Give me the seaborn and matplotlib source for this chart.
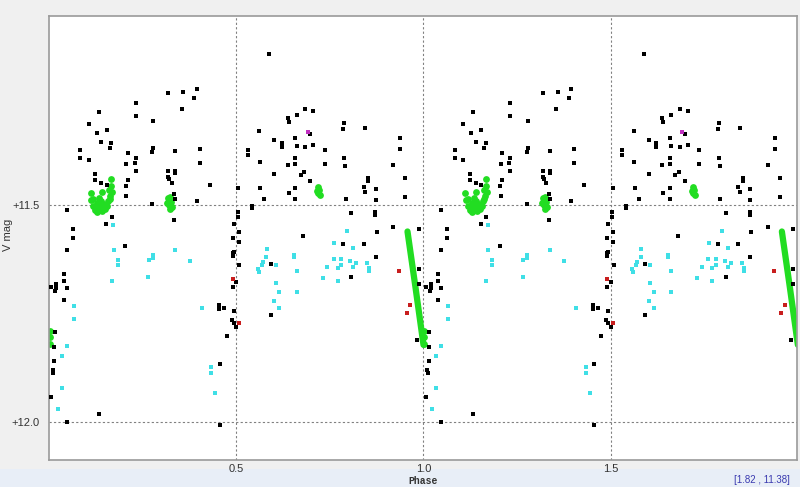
"""
Phase plot of a variable star (V magnitude vs phase, folded twice)
"""

import numpy as np
import pandas as pd
import matplotlib
matplotlib.use('Agg')
import matplotlib.pyplot as plt
import seaborn as sns

# ---- data (phase 0..1, drawn again at phase+1) ----
black_phase = [0.1324, 0.1057, 0.1282, 0.1549, 0.1397, 0.1664, 0.1618, 0.0836, 0.0836, 0.1057,
               0.1236, 0.1236, 0.1397, 0.1549, 0.2312, 0.2312, 0.2109, 0.2064, 0.2312, 0.2296,
               0.2312, 0.2109, 0.2045, 0.2064, 0.2785, 0.2785, 0.2758, 0.3186, 0.3586, 0.3952,
               0.3880, 0.3551, 0.3372, 0.4021, 0.4021, 0.3186, 0.3372, 0.3372, 0.3186, 0.3212,
               0.3284, 0.3346, 0.3372, 0.3952, 0.4288, 0.2758, 0.0481, 0.0630, 0.0630, 0.1682,
               0.1530, 0.3346, 0.5055, 0.5036, 0.5036, 0.4929, 0.4903, 0.0481, 0.2037, 0.0401,
               0.0401, 0.0061, 0.0195, 0.0168, 0.0195, 0.0470, 0.0401, 0.0160, 0.0142, 0.0142,
               0.0107, 0.0115, 0.0061, 0.0470, 0.1324, 0.4529, 0.4529, 0.4673, 0.4742, 0.4555,
               0.4555, 0.4903, 0.4903, 0.4929, 0.5063, 0.5063, 0.5081, 0.4903, 0.5001, 0.4940,
               0.4887, 0.4929, 0.5001, 0.5883, 0.6844, 0.7065, 0.6371, 0.6398, 0.6622, 0.5615,
               0.6977, 0.6016, 0.6222, 0.6222, 0.6577, 0.6622, 0.6844, 0.7065, 0.7359, 0.5303,
               0.5303, 0.5634, 0.6577, 0.6371, 0.6577, 0.7359, 0.6016, 0.6729, 0.6817, 0.6977,
               0.5642, 0.6398, 0.6577, 0.5749, 0.6577, 0.7885, 0.7866, 0.8454, 0.7885, 0.7912,
               0.7920, 0.8526, 0.8526, 0.8401, 0.8454, 0.8732, 0.8732, 0.9202, 0.9380, 0.9380,
               0.9514, 0.9514, 0.5421, 0.5421, 0.6798, 0.8072, 0.8713, 0.8713, 0.8758, 0.9202,
               0.9880, 0.5928, 0.5928, 0.7866, 0.8401, 0.8732, 0.8072, 0.9880, 0.9880, 0.9826]
black_mag = [11.287, 11.314, 11.334, 11.327, 11.354, 11.357, 11.368, 11.374, 11.391, 11.397,
             11.428, 11.442, 11.449, 11.455, 11.266, 11.295, 11.380, 11.405, 11.392, 11.403,
             11.422, 11.442, 11.457, 11.479, 11.306, 11.368, 11.378, 11.242, 11.241, 11.233,
             11.254, 11.278, 11.376, 11.372, 11.403, 11.421, 11.421, 11.426, 11.435, 11.441,
             11.449, 11.475, 11.486, 11.490, 11.453, 11.498, 11.512, 11.556, 11.576, 11.527,
             11.544, 11.535, 11.462, 11.516, 11.528, 11.544, 11.576, 11.604, 11.594, 11.658,
             11.676, 11.689, 11.681, 11.699, 11.692, 11.692, 11.719, 11.792, 11.827, 11.860,
             11.880, 11.886, 11.943, 11.999, 11.982, 11.731, 11.740, 11.736, 11.801, 11.866,
             12.007, 11.611, 11.617, 11.608, 11.586, 11.563, 11.637, 11.689, 11.678, 11.743,
             11.765, 11.772, 11.781, 11.153, 11.279, 11.283, 11.300, 11.308, 11.293, 11.330,
             11.337, 11.350, 11.357, 11.367, 11.345, 11.364, 11.367, 11.363, 11.374, 11.374,
             11.386, 11.401, 11.393, 11.409, 11.406, 11.406, 11.428, 11.431, 11.424, 11.444,
             11.462, 11.473, 11.462, 11.486, 11.486, 11.311, 11.326, 11.322, 11.393, 11.411,
             11.486, 11.439, 11.445, 11.459, 11.471, 11.463, 11.488, 11.409, 11.345, 11.370,
             11.439, 11.482, 11.502, 11.508, 11.571, 11.519, 11.516, 11.523, 11.563, 11.550,
             11.556, 11.635, 11.753, 11.589, 11.589, 11.620, 11.665, 11.647, 11.681, 11.811]

cyan_phase = [0.1717, 0.1725, 0.1842, 0.1842, 0.1682, 0.2660, 0.2766, 0.2766, 0.2652, 0.3372,
              0.3765, 0.4075, 0.0657, 0.0657, 0.0481, 0.0336, 0.0347, 0.0230, 0.4334, 0.4334,
              0.4441, 0.7973, 0.5821, 0.5802, 0.5704, 0.5688, 0.5581, 0.5597, 0.6061, 0.6061,
              0.6150, 0.6016, 0.6150, 0.6531, 0.6531, 0.6622, 0.6622, 0.7316, 0.7431, 0.7618,
              0.7610, 0.7717, 0.7717, 0.7813, 0.7813, 0.8045, 0.8133, 0.8125, 0.8206, 0.8507,
              0.8553, 0.8553]
cyan_mag = [11.546, 11.604, 11.626, 11.637, 11.674, 11.626, 11.616, 11.622, 11.666, 11.604,
            11.630, 11.736, 11.732, 11.762, 11.825, 11.848, 11.921, 11.970, 11.872, 11.887,
            11.932, 11.559, 11.601, 11.620, 11.632, 11.638, 11.648, 11.654, 11.639, 11.679,
            11.701, 11.722, 11.736, 11.616, 11.620, 11.653, 11.701, 11.668, 11.643, 11.587,
            11.624, 11.644, 11.676, 11.624, 11.639, 11.630, 11.599, 11.643, 11.633, 11.633,
            11.644, 11.653]

red_phase = [0.4913, 0.5073, 0.9362, 0.9647, 0.9559]
red_mag = [11.670, 11.771, 11.651, 11.731, 11.749]

magenta_phase = [0.6905]
magenta_mag = [11.332]

# dense green runs (single nights)
green_phase = [0.1130, 0.1183, 0.1236, 0.1290, 0.1370, 0.1450, 0.1503, 0.1583, 0.1637, 0.1610,
               0.1664, 0.1690, 0.1290, 0.1423, 0.1557, 0.1121, 0.1415, 0.1664, 0.1183, 0.1343,
               0.1310, 0.1400, 0.1480, 0.1620,
               0.3186, 0.3239, 0.3266, 0.3212, 0.3292, 0.3239, 0.3159,
               0.7191, 0.7218, 0.7191, 0.7244, 0.7164,
               0.0030, 0.0030, 0.0030]
green_mag = [11.488, 11.502, 11.512, 11.495, 11.505, 11.498, 11.509, 11.491, 11.479, 11.465,
             11.456, 11.470, 11.516, 11.514, 11.502, 11.473, 11.471, 11.441, 11.486, 11.484,
             11.506, 11.490, 11.500, 11.486,
             11.484, 11.482, 11.493, 11.500, 11.505, 11.509, 11.495,
             11.459, 11.465, 11.472, 11.477, 11.468,
             11.790, 11.805, 11.820]

streak_phase = [0.9576, 0.9790, 1.0003]
streak_mag = [11.561, 11.690, 11.822]

x_ticks = [0.5, 1.0, 1.5]
y_ticks = [11.5, 12.0]
y_tick_labels = ['+11.5', '+12.0']


def fold(phase, mag):
    df = pd.DataFrame({'phase': phase, 'mag': mag})
    return pd.concat([df, df.assign(phase=df['phase'] + 1)], ignore_index=True)


sns.set_style('white')
plt.rcParams['font.family'] = ['Liberation Sans', 'DejaVu Sans']

fig = plt.figure(figsize=(8.0, 4.87), dpi=100, facecolor='#f0f0f0')
# pale strip at the bottom (status bar)
fig.patches.append(plt.Rectangle((0, 0), 1, 18 / 487, transform=fig.transFigure,
                                 facecolor='#e8eef7', edgecolor='none', zorder=-1))
ax = fig.add_axes([49 / 800, 27 / 487, 748 / 800, 444 / 487])
ax.set_facecolor('white')

ax.set_xlim(0, 1.998)
ax.set_ylim(12.087, 11.065)

for v in x_ticks:
    ax.axvline(v, color='#808080', lw=0.8, ls=(0, (2, 2)), zorder=0)
for v in y_ticks:
    ax.axhline(v, color='#808080', lw=0.8, ls=(0, (2, 2)), zorder=0)

streak = fold(streak_phase, streak_mag)
for k in range(2):
    part = streak.iloc[k * 3:(k + 1) * 3]
    sns.lineplot(data=part, x='phase', y='mag', color='#22dd22', lw=4.5,
                 solid_capstyle='round', sort=False, ax=ax, zorder=2)

sns.scatterplot(data=fold(green_phase, green_mag), x='phase', y='mag', color='#22dd22',
                marker='o', s=24, linewidth=0, ax=ax, zorder=2)
sns.scatterplot(data=fold(cyan_phase, cyan_mag), x='phase', y='mag', color='#3fdfe6',
                marker='s', s=9, linewidth=0, ax=ax, zorder=3)
sns.scatterplot(data=fold(black_phase, black_mag), x='phase', y='mag', color='black',
                marker='s', s=9, linewidth=0, ax=ax, zorder=4)
sns.scatterplot(data=fold(red_phase, red_mag), x='phase', y='mag', color='#c81e1e',
                marker='s', s=9, linewidth=0, ax=ax, zorder=4)
sns.scatterplot(data=fold(magenta_phase, magenta_mag), x='phase', y='mag', color='#c030c0',
                marker='s', s=9, linewidth=0, ax=ax, zorder=4)

ax.set_xticks(x_ticks)
ax.set_xticklabels(['0.5', '1.0', '1.5'])
ax.set_yticks(y_ticks)
ax.set_yticklabels(y_tick_labels)
ax.tick_params(axis='both', length=0, labelsize=8, labelcolor='#333333')
ax.tick_params(axis='x', pad=3)
ax.tick_params(axis='y', pad=7)

ax.set_xlabel('Phase', fontsize=7, fontweight='bold', family='Liberation Mono',
              color='#333333', labelpad=1)
ax.set_ylabel('')
fig.text(8 / 800, 1 - 235 / 487, 'V mag', rotation=90, ha='center', va='center',
         fontsize=8, color='#333333')

for side in ['left', 'right', 'top', 'bottom']:
    ax.spines[side].set_visible(True)
    ax.spines[side].set_color('#9a9a9a')
    ax.spines[side].set_linewidth(1.2)

fig.text(762 / 800, 1 - 480 / 487, '[1.82 , 11.38]', ha='center', va='center',
         fontsize=7, color='#3a3ab0')

plt.savefig('out.png', dpi=100, facecolor=fig.get_facecolor())
